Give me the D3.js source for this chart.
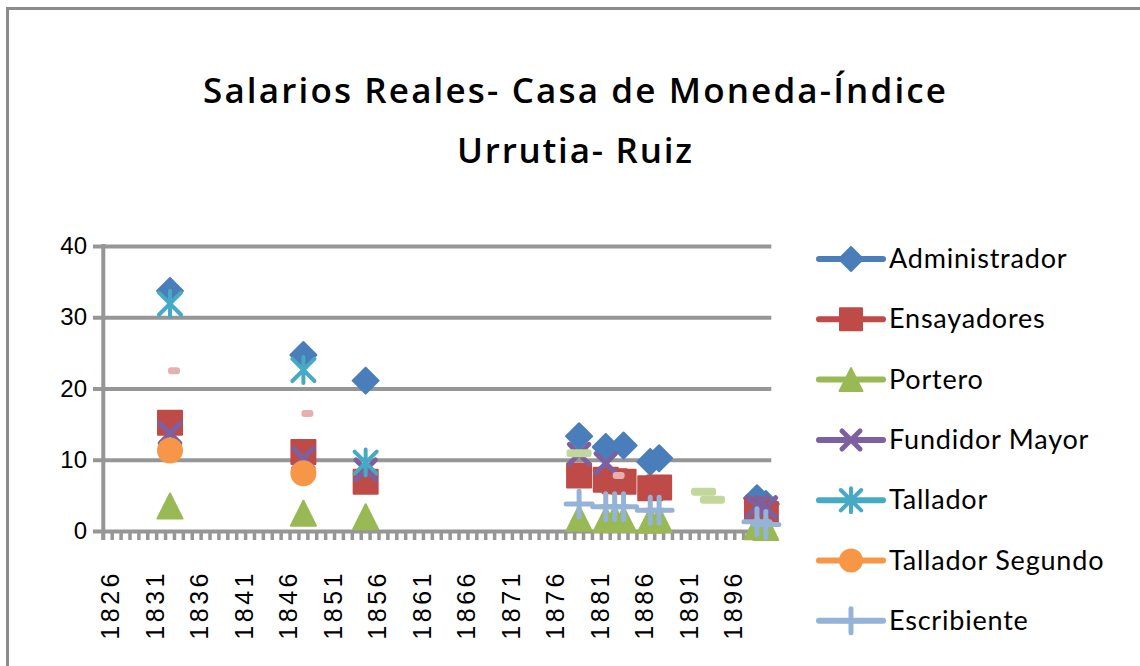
<!DOCTYPE html>
<html>
<head>
<meta charset="utf-8">
<script src="https://cdn.jsdelivr.net/npm/d3@7"></script>
<style>
  html, body { margin: 0; padding: 0; background: #fff; }
  svg { display: block; }
</style>
</head>
<body>
<div id="chart"></div>
<script>
// categories: one per year on the axis
const years = d3.range(1826, 1901);
const tickYears = [1826, 1831, 1836, 1841, 1846, 1851, 1856, 1861, 1866, 1871, 1876, 1881, 1886, 1891, 1896];
const yTicks = [0, 10, 20, 30, 40];

// only the first seven series show in the legend, the rest fall off the bottom
const seriesNames = ["Administrador", "Ensayadores", "Portero", "Fundidor Mayor", "Tallador",
    "Tallador Segundo", "Escribiente"];

// values, [year, value]
const administrador = [[1833, 33.7], [1848, 24.7], [1855, 21.1], [1879, 13.3], [1882, 11.8], [1884, 12.0],
    [1887, 9.7], [1888, 10.2], [1899, 4.6], [1900, 3.8]];
const ensayadores = [[1833, 15.2], [1848, 11.1], [1855, 6.9], [1879, 7.8], [1882, 7.2], [1883, 7.0], [1884, 6.9],
    [1887, 6.0], [1888, 6.1], [1899, 3.0], [1900, 2.4]];
const portero = [[1833, 3.5], [1848, 2.5], [1855, 2.0], [1879, 1.8], [1882, 1.6], [1883, 1.8], [1884, 1.6],
    [1887, 1.5], [1888, 1.6], [1899, 0.6], [1900, 0.5]];
const fundidorMayor = [[1833, 13.7], [1848, 10.2], [1855, 8.6], [1879, 10.8], [1882, 9.5], [1899, 3.4], [1900, 3.3]];
const tallador = [[1833, 31.9], [1848, 22.6], [1855, 9.6]];
const talladorSegundo = [[1833, 11.3], [1848, 8.1]];
const escribiente = [[1879, 3.8], [1882, 3.4], [1883, 3.4], [1884, 3.4], [1887, 2.9], [1888, 2.9], [1899, 1.3], [1900, 0.9]];
const serie8 = [[1833, 22.5], [1848, 16.5], [1883, 7.8]];
const serie9 = [[1879, 10.9], [1893, 5.5], [1894, 4.4]];

const allSeries = [administrador, ensayadores, portero, fundidorMayor, tallador,
    talladorSegundo, escribiente, serie8, serie9];

const colors = ["#4a7ebb", "#be4b48", "#98b954", "#7d60a0", "#46aac5", "#f79646", "#95b3d7", "#e6b0ae", "#c3d69b"];
const shapes = ["diamond", "square", "triangle", "x", "star", "circle", "plus", "dash", "longdash"];

const width = 1140, height = 666;
const plotLeft = 103.3, plotRight = 770.3, plotTop = 246, plotBottom = 531;

let svg = d3.select("#chart")
    .append("svg")
    .attr("width", width)
    .attr("height", height);

// outer chart border
svg.append("rect")
    .attr("x", 7.5).attr("y", 8.5)
    .attr("width", 1200).attr("height", 800)
    .attr("fill", "none")
    .attr("stroke", "#8c8c8c")
    .attr("stroke-width", 3);

let x = d3.scaleBand().domain(years).range([plotLeft, plotRight]);
let y = d3.scaleLinear().domain([0, 40]).range([plotBottom, plotTop]);

// title
svg.append("text")
    .attr("x", 574.5).attr("y", 103)
    .attr("text-anchor", "middle")
    .attr("textLength", 743).attr("lengthAdjust", "spacing")
    .style("font-family", "'Open Sans', Lato, sans-serif")
    .style("font-weight", 600)
    .style("font-size", "35px")
    .text("Salarios Reales- Casa de Moneda-Índice");
svg.append("text")
    .attr("x", 574.5).attr("y", 163)
    .attr("text-anchor", "middle")
    .attr("textLength", 235).attr("lengthAdjust", "spacing")
    .style("font-family", "'Open Sans', Lato, sans-serif")
    .style("font-weight", 600)
    .style("font-size", "35px")
    .text("Urrutia- Ruiz");

// gridlines + y labels
let yAxis = svg.append("g")
    .attr("transform", `translate(93, 0)`)
    .call(d3.axisLeft(y).tickValues(yTicks).tickSize(-(plotRight + 1 - 93)).tickPadding(6));
yAxis.select(".domain").remove();
yAxis.selectAll("line")
    .attr("stroke", "#969696")
    .attr("stroke-width", 4);
yAxis.selectAll("text")
    .style("font-family", "'Liberation Sans', Arial, sans-serif")
    .style("font-size", "24px")
    .attr("fill", "#000");

// y axis line
svg.append("line")
    .attr("x1", plotLeft).attr("x2", plotLeft)
    .attr("y1", plotTop - 2).attr("y2", plotBottom + 9)
    .attr("stroke", "#969696")
    .attr("stroke-width", 4);

// x ticks between categories
svg.append("g")
    .selectAll("line")
    .data(years.concat([null]))
    .enter().append("line")
    .attr("x1", d => d === null ? plotRight : x(d))
    .attr("x2", d => d === null ? plotRight : x(d))
    .attr("y1", plotBottom)
    .attr("y2", plotBottom + 9)
    .attr("stroke", "#969696")
    .attr("stroke-width", 3.5);

// x labels
svg.append("g")
    .selectAll("text")
    .data(tickYears)
    .enter().append("text")
    .attr("transform", d => `translate(${x(d) + x.bandwidth() / 2 + 3}, 570) rotate(-90)`)
    .attr("text-anchor", "end")
    .attr("dy", "0.35em")
    .style("font-family", "'Liberation Sans', Arial, sans-serif")
    .style("font-size", "25px")
    .style("letter-spacing", "3.5px")
    .text(d => d);

function markerPath(shape, s) {
    let p = d3.path();
    if (shape == "diamond") {
        p.moveTo(0, -s); p.lineTo(s, 0); p.lineTo(0, s); p.lineTo(-s, 0); p.closePath();
    } else if (shape == "square") {
        p.rect(-s, -s, 2 * s, 2 * s);
    } else if (shape == "triangle") {
        p.moveTo(0, -s); p.lineTo(s, s); p.lineTo(-s, s); p.closePath();
    } else if (shape == "x") {
        let r = s * 0.75;
        p.moveTo(-r, -r); p.lineTo(r, r); p.moveTo(r, -r); p.lineTo(-r, r);
    } else if (shape == "star") {
        let r = s * 0.85;
        p.moveTo(-r, -r); p.lineTo(r, r); p.moveTo(r, -r); p.lineTo(-r, r);
        p.moveTo(0, -s); p.lineTo(0, s);
    } else if (shape == "plus") {
        p.moveTo(-s, 0); p.lineTo(s, 0); p.moveTo(0, -s); p.lineTo(0, s);
    }
    return p.toString();
}

function drawMarker(g, shape, color, s) {
    if (shape == "circle") {
        g.append("circle").attr("r", s).attr("fill", color);
    } else if (shape == "dash") {
        g.append("rect").attr("x", -2).attr("y", -3.5).attr("width", 12).attr("height", 7)
            .attr("rx", 3).attr("fill", color);
    } else if (shape == "longdash") {
        g.append("rect").attr("x", -12.5).attr("y", -4).attr("width", 25).attr("height", 8)
            .attr("rx", 3).attr("fill", color);
    } else if (shape == "x" || shape == "star" || shape == "plus") {
        g.append("path").attr("d", markerPath(shape, s))
            .attr("fill", "none").attr("stroke", color)
            .attr("stroke-width", shape == "star" ? 4 : 5)
            .attr("stroke-linecap", "round");
    } else {
        g.append("path").attr("d", markerPath(shape, s))
            .attr("fill", color).attr("stroke", color)
            .attr("stroke-width", 2).attr("stroke-linejoin", "round");
    }
}

const plotSizes = [13, 12, 12.5, 13, 13, 13, 13, 0, 0];
const legendSizes = [12, 11, 11.5, 12, 12, 12, 12];

// series points
allSeries.forEach(function(series, i) {
    let g = svg.append("g").attr("class", "series");
    series.forEach(function(d) {
        let m = g.append("g")
            .attr("transform", `translate(${x(d[0]) + x.bandwidth() / 2}, ${y(d[1])})`);
        drawMarker(m, shapes[i], colors[i], plotSizes[i]);
    });
});

// legend
let legend = svg.append("g")
    .selectAll("g")
    .data(seriesNames)
    .enter().append("g")
    .attr("transform", (d, i) => `translate(851, ${259 + i * 60.3})`);

legend.append("line")
    .attr("x1", -32).attr("x2", 32)
    .attr("stroke", (d, i) => colors[i])
    .attr("stroke-width", 6)
    .attr("stroke-linecap", "round");

legend.each(function(d, i) {
    drawMarker(d3.select(this), shapes[i], colors[i], legendSizes[i]);
});

legend.append("text")
    .attr("x", 38)
    .attr("y", 9)
    .style("font-family", "Lato, 'Open Sans', sans-serif")
    .style("font-size", "27px")
    .style("letter-spacing", "0.8px")
    .text(d => d);
</script>
</body>
</html>
